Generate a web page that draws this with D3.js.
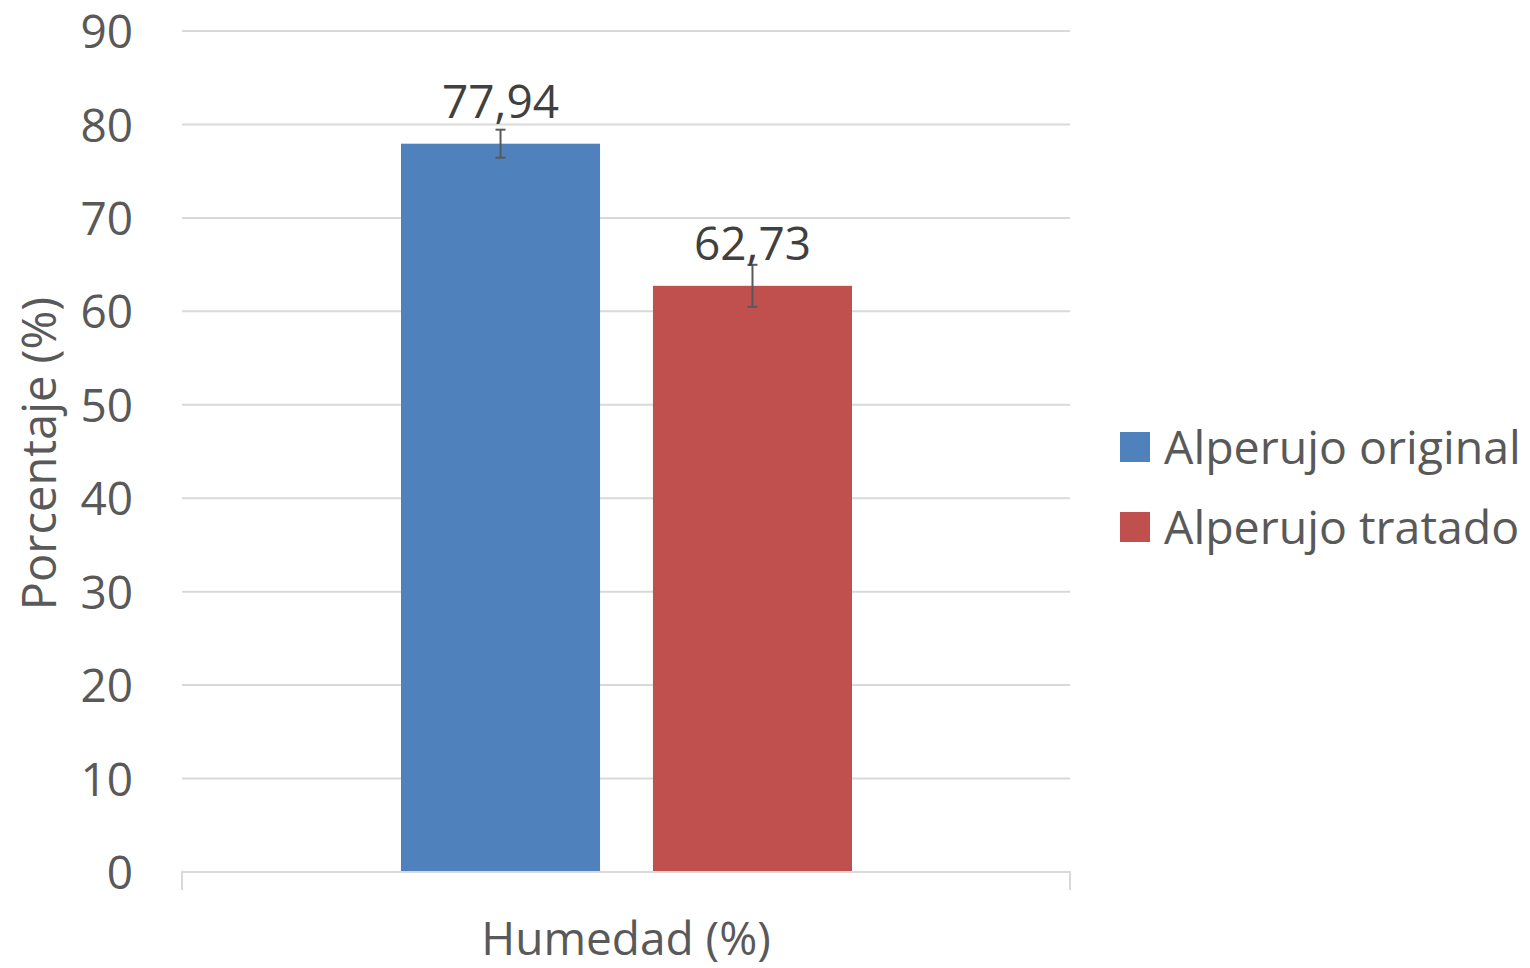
<!DOCTYPE html>
<html>
<head>
<meta charset="utf-8">
<script src="https://cdn.jsdelivr.net/npm/d3@7"></script>
<style>
  body { margin: 0; background: #fff; }
  text { font-family: "Open Sans", "Liberation Sans", sans-serif; fill: #595959; }
</style>
</head>
<body>
<div id="chart"></div>
<script>
let width = 1530
let height = 968

// data
let categories = ['Humedad (%)']
let seriesNames = ['Alperujo original', 'Alperujo tratado']
let seriesValues = [77.94, 62.73]
let seriesErrors = [1.5, 2.25]
let seriesColors = ['#4f81bd', '#c0504d']
let yTicks = [0, 10, 20, 30, 40, 50, 60, 70, 80, 90]

let margin = {left: 182, right: 460, top: 31, bottom: 96}
let plotW = width - margin.left - margin.right
let plotH = height - margin.top - margin.bottom

let svg = d3.select('#chart').append('svg')
    .attr('width', width)
    .attr('height', height)

let g = svg.append('g').attr('transform', `translate(${margin.left}, ${margin.top})`)

let yScale = d3.scaleLinear().domain([0, 90]).range([plotH, 0])
let xScale = d3.scaleBand().domain(categories).range([0, plotW])
let inner = d3.scaleBand().domain(seriesNames).range([219, 670]).paddingInner(0.21)

// -- gridlines
g.selectAll('.grid')
  .data(yTicks.slice(1))
  .enter().append('line')
  .attr('x1', 0).attr('x2', plotW)
  .attr('y1', d => yScale(d)).attr('y2', d => yScale(d))
  .attr('stroke', '#d9d9d9').attr('stroke-width', 2)

// -- y axis labels
let yAxis = d3.axisLeft(yScale).tickValues(yTicks).tickSize(0).tickPadding(49)
g.append('g').call(yAxis)
  .call(a => a.select('.domain').remove())
  .call(a => a.selectAll('text').style('font-size', '46px').attr('fill', '#595959').attr('dy', '0.36em'))

// -- bars
g.selectAll('rect.bar')
  .data(seriesValues)
  .enter().append('rect')
  .attr('class', 'bar')
  .attr('x', (d, i) => inner(seriesNames[i]))
  .attr('y', d => yScale(d))
  .attr('width', inner.bandwidth())
  .attr('height', d => plotH - yScale(d))
  .attr('fill', (d, i) => seriesColors[i])

// -- x axis
let xAxis = d3.axisBottom(xScale).tickSize(0).tickPadding(50)
g.append('g').attr('transform', `translate(0, ${plotH})`).call(xAxis)
  .call(a => a.select('.domain').remove())
  .call(a => a.selectAll('text').style('font-size', '46px').attr('fill', '#595959'))
g.append('path')
  .attr('d', `M0,${plotH + 18}V${plotH}H${plotW}V${plotH + 18}`)
  .attr('fill', 'none').attr('stroke', '#d9d9d9').attr('stroke-width', 2)

// -- error bars
seriesValues.forEach((v, i) => {
  let cx = inner(seriesNames[i]) + inner.bandwidth() / 2
  let e = seriesErrors[i]
  let eg = g.append('g').attr('stroke', '#595959').attr('stroke-width', 2)
  eg.append('line').attr('x1', cx).attr('x2', cx).attr('y1', yScale(v + e)).attr('y2', yScale(v - e))
  eg.append('line').attr('x1', cx - 5).attr('x2', cx + 5).attr('y1', yScale(v + e)).attr('y2', yScale(v + e))
  eg.append('line').attr('x1', cx - 5).attr('x2', cx + 5).attr('y1', yScale(v - e)).attr('y2', yScale(v - e))
})

// -- data labels
g.selectAll('.lbl')
  .data(seriesValues)
  .enter().append('text')
  .attr('x', (d, i) => inner(seriesNames[i]) + inner.bandwidth() / 2)
  .attr('y', d => yScale(d) - 26)
  .attr('text-anchor', 'middle')
  .style('font-size', '46px')
  .style('fill', '#404040')
  .text(d => d.toFixed(2).replace('.', ','))

// -- y title
svg.append('text')
  .attr('transform', `translate(56, ${margin.top + plotH / 2 + 2}) rotate(-90)`)
  .attr('text-anchor', 'middle')
  .style('font-size', '47px')
  .text('Porcentaje (%)')

// -- legend
let leg = svg.append('g').attr('transform', 'translate(1120, 432)')
seriesNames.forEach((s, i) => {
  leg.append('rect').attr('x', 0).attr('y', i * 80).attr('width', 30).attr('height', 30).attr('fill', seriesColors[i])
  leg.append('text').attr('x', 44).attr('y', i * 80 + 32).style('font-size', '46.5px').text(s)
})
</script>
</body>
</html>
